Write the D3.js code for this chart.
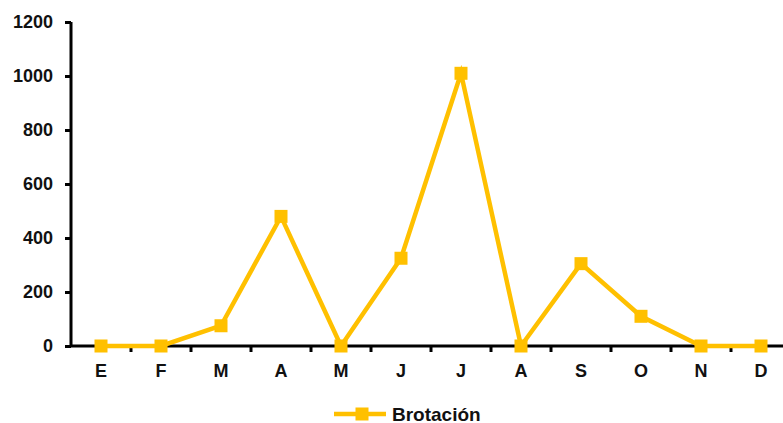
<!DOCTYPE html>
<html>
<head>
<meta charset="utf-8">
<script src="https://cdn.jsdelivr.net/npm/d3@7"></script>
<style>
    body { margin: 0; background: #fff; }
    text { font-family: "Liberation Sans", Arial, sans-serif; font-weight: bold; }
</style>
</head>
<body>
<svg id="chart" width="783" height="423"></svg>
<script>
// Monthly categories and values
const months = ['E', 'F', 'M', 'A', 'M', 'J', 'J', 'A', 'S', 'O', 'N', 'D'];
const brotacion = [0, 0, 75, 480, 0, 325, 1010, 0, 305, 110, 0, 0];
const yTicks = [0, 200, 400, 600, 800, 1000, 1200];
const seriesName = 'Brotación';

const svg = d3.select('#chart');
const color = '#FFC000';

// use index as key so repeated month letters stay separate
const data = brotacion.map((v, i) => ({ key: i, label: months[i], val: v }));

const xScale = d3.scaleBand()
    .domain(data.map(d => d.key))
    .range([71, 791]);

const yScale = d3.scaleLinear()
    .domain([0, 1200])
    .range([346, 22]);

// Y axis
const yAxis = d3.axisLeft(yScale)
    .tickValues(yTicks)
    .tickFormat(d3.format('d'))
    .tickSize(6)
    .tickPadding(12);

const yAxisGroup = svg.append('g')
    .attr('transform', 'translate(71,0)')
    .call(yAxis);
yAxisGroup.select('.domain').remove();
yAxisGroup.append('line')
    .attr('y1', yScale(1200))
    .attr('y2', yScale(0) + 1)
    .attr('stroke', '#000')
    .attr('stroke-width', 3);
yAxisGroup.selectAll('.tick line').attr('stroke', '#000').attr('stroke-width', 3);
yAxisGroup.selectAll('.tick text')
    .attr('fill', '#111')
    .style('font-size', '18px');

// X axis: ticks sit between categories
const xAxisGroup = svg.append('g')
    .attr('transform', `translate(0,${yScale(0)})`);
xAxisGroup.append('line')
    .attr('x1', 71)
    .attr('x2', 791)
    .attr('stroke', '#000')
    .attr('stroke-width', 3);
xAxisGroup.selectAll('.xtick')
    .data(data)
    .join('line')
    .attr('class', 'xtick')
    .attr('x1', d => xScale(d.key) + xScale.bandwidth())
    .attr('x2', d => xScale(d.key) + xScale.bandwidth())
    .attr('y1', 0)
    .attr('y2', 6)
    .attr('stroke', '#000')
    .attr('stroke-width', 3);
xAxisGroup.selectAll('.xlabel')
    .data(data)
    .join('text')
    .attr('class', 'xlabel')
    .attr('x', d => xScale(d.key) + xScale.bandwidth() / 2)
    .attr('y', 31)
    .attr('text-anchor', 'middle')
    .attr('fill', '#111')
    .style('font-size', '18px')
    .text(d => d.label);

// Line + markers
const line = d3.line()
    .x(d => xScale(d.key) + xScale.bandwidth() / 2)
    .y(d => yScale(d.val));

svg.append('path')
    .datum(data)
    .attr('fill', 'none')
    .attr('stroke', color)
    .attr('stroke-width', 4.5)
    .attr('stroke-linejoin', 'miter')
    .attr('d', line);

svg.selectAll('.marker')
    .data(data)
    .join('rect')
    .attr('class', 'marker')
    .attr('x', d => xScale(d.key) + xScale.bandwidth() / 2 - 6.5)
    .attr('y', d => yScale(d.val) - 6.5)
    .attr('width', 13)
    .attr('height', 13)
    .attr('fill', color);

// Legend
const legend = svg.append('g').attr('transform', 'translate(334,414)');
legend.append('line')
    .attr('x1', 0).attr('x2', 52)
    .attr('stroke', color)
    .attr('stroke-width', 4.5);
legend.append('rect')
    .attr('x', 21.5).attr('y', -6.5)
    .attr('width', 13).attr('height', 13)
    .attr('fill', color);
legend.append('text')
    .attr('x', 58)
    .attr('y', 6.5)
    .attr('fill', '#111')
    .style('font-size', '19px')
    .text(seriesName);
</script>
</body>
</html>
